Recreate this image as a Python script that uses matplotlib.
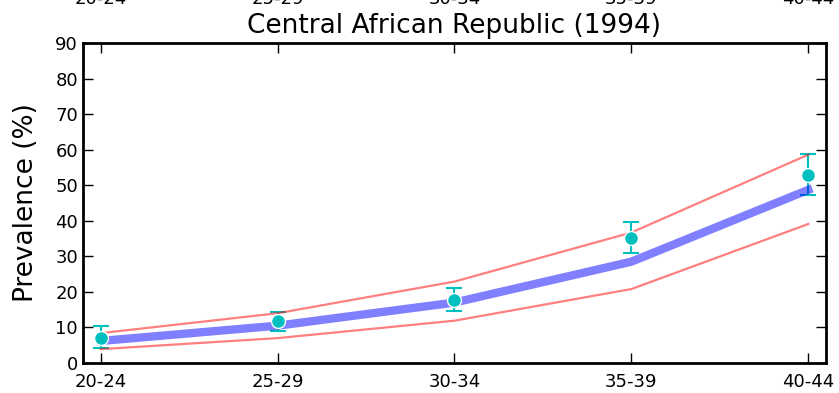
# prevalence by age group, Central African Republic 1994
import numpy as np
import matplotlib
matplotlib.use('Agg')
import matplotlib.pyplot as plt
import matplotlib.transforms as mtransforms

age_groups = ['20-24', '25-29', '30-34', '35-39', '40-44']
model_median = [6.2, 10.5, 17.0, 28.5, 48.7]
model_upper = [8.4, 14.0, 22.9, 36.7, 58.6]
model_lower = [3.9, 7.0, 11.9, 20.8, 39.1]
obs_value = [7.0, 11.8, 17.7, 35.2, 53.0]
obs_low = [4.2, 9.1, 14.6, 30.8, 47.2]
obs_high = [10.4, 14.3, 21.0, 39.6, 58.9]

x = np.arange(len(age_groups))
obs = np.array(obs_value)
err = [obs - np.array(obs_low), np.array(obs_high) - obs]

fig = plt.figure(figsize=(8.39, 3.93), dpi=100)
ax = fig.add_axes([0.0989, 0.0763, 0.8856, 0.8143])

# погрешности под линией модели
ax.errorbar(x, obs, yerr=err, fmt='none', ecolor='c',
            elinewidth=1.5, capsize=6, capthick=1.5, zorder=2)

# модельные кривые
ax.plot(x, model_median, color='b', alpha=0.5, linewidth=6, zorder=3)
ax.plot(x, model_upper, color='r', alpha=0.5, linewidth=1.6, zorder=3)
ax.plot(x, model_lower, color='r', alpha=0.5, linewidth=1.6, zorder=3)

# точки поверх
ax.plot(x, obs, 'o', color='c', markersize=10, markeredgecolor='white',
        markeredgewidth=1, zorder=4)

ax.set_xlim(-0.1, 4.1)
ax.set_ylim(0, 90)
ax.set_xticks(x)
ax.set_xticklabels(age_groups)
ax.set_yticks(range(0, 91, 10))

ax.tick_params(direction='in', length=7, width=1, top=True, right=True,
               labelsize=13)
ax.tick_params(axis='x', pad=7, labeltop=True)

for s in ax.spines.values():
    s.set_linewidth(2)

ax.set_ylabel('Prevalence (%)', fontsize=19, labelpad=12)
ax.set_title('Central African Republic (1994)', fontsize=19, y=1.0, pad=7)

# верхние подписи уходят выше заголовка (обрезаны краем)
offset = mtransforms.ScaledTranslation(0, 18 / 72, fig.dpi_scale_trans)
for t in ax.xaxis.get_major_ticks():
    t.label2.set_transform(t.label2.get_transform() + offset)

fig.savefig('out.png', dpi=100)
